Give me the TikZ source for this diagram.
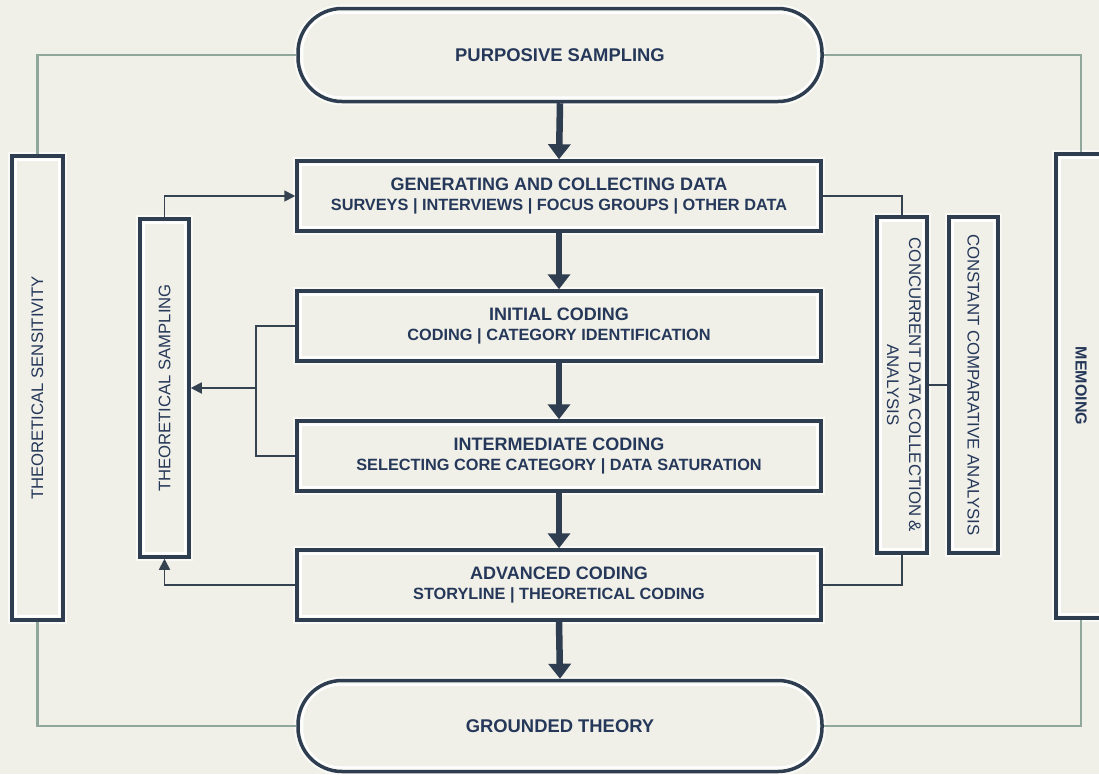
\documentclass[tikz,border=0pt]{standalone}
\usepackage{fontspec}
\setmainfont{Liberation Sans}
\usetikzlibrary{arrows.meta,calc}
\definecolor{bg}{HTML}{F0F0E9}
\definecolor{dk}{HTML}{2E3D4F}
\definecolor{tx}{HTML}{263859}
\definecolor{gr}{HTML}{8FA89B}
\definecolor{ln}{HTML}{34434F}
\newcommand{\lineA}{\fontsize{18}{21}\selectfont\bfseries}
\newcommand{\lineB}{\fontsize{16.3}{21}\selectfont\bfseries}
\begin{document}
\begin{tikzpicture}[x=1pt,y=-1pt,
  box/.style={draw=dk, line width=3.5pt, text=tx, align=center, inner sep=0pt,
    preaction={draw=white,line width=8pt,opacity=0.6}},
  hbox/.style={box, minimum width=524pt, minimum height=70pt},
  stad/.style={box, rounded corners=44pt, minimum width=524pt, minimum height=93pt},
  vbox/.style={box, minimum width=50pt},
  innerline/.style={draw=white, line width=2pt},
  bigarrow/.style={draw=dk, line width=6.5pt, -{Triangle[width=22pt,length=15pt]}},
  thinline/.style={draw=ln, line width=1.8pt},
  thinarrow/.style={thinline, -{Triangle[width=11pt,length=11pt]}},
  gline/.style={draw=gr, line width=2.4pt},
  tA/.style={font=\fontsize{18.4}{22}\selectfont\bfseries},
]
\fill[bg] (0,0) rectangle (1099,774);
\useasboundingbox (0,0) rectangle (1099,774);

% main column
\node[stad, tA] (purp) at (560,55) {PURPOSIVE SAMPLING};
\node[hbox] (gen) at (559,196) {\lineA GENERATING AND COLLECTING DATA\\[8pt]\lineB SURVEYS | INTERVIEWS | FOCUS GROUPS | OTHER DATA};
\node[hbox] (init) at (559,326) {\lineA INITIAL CODING\\[8pt]\lineB CODING | CATEGORY IDENTIFICATION};
\node[hbox] (inter) at (559,456) {\lineA INTERMEDIATE CODING\\[8pt]\lineB SELECTING CORE CATEGORY | DATA SATURATION};
\node[hbox] (adv) at (559,585) {\lineA ADVANCED CODING\\[8pt]\lineB STORYLINE | THEORETICAL CODING};
\node[stad, tA, minimum height=91pt] (gt) at (560,726) {GROUNDED THEORY};

% vertical boxes
\node[vbox, minimum width=51pt, minimum height=464pt] (sens) at (37.5,388) {\rotatebox{90}{\fontsize{16.7}{20}\selectfont THEORETICAL SENSITIVITY}};
\node[vbox, minimum width=49pt, minimum height=338pt] (samp) at (164.5,388) {\rotatebox{90}{\fontsize{16.7}{20}\selectfont THEORETICAL SAMPLING}};
\node[vbox, minimum height=336pt] (conc) at (902,385) {\rotatebox{-90}{\fontsize{16.8}{20}\selectfont\begin{tabular}{@{}c@{}}CONCURRENT DATA COLLECTION \&\\[2pt]ANALYSIS\end{tabular}}};
\node[vbox, minimum width=49pt, minimum height=336pt] (const) at (973.5,385) {\rotatebox{-90}{\fontsize{16.8}{20}\selectfont CONSTANT COMPARATIVE ANALYSIS}};
\node[vbox, minimum height=464pt] (memo) at (1081,386) {\rotatebox{-90}{\fontsize{16}{20}\selectfont\bfseries MEMOING}};

% inner white lines
\foreach \n in {gen,init,inter,adv,sens,samp,conc,const,memo}
  \draw[innerline] ([shift={(6pt,-6pt)}]\n.north west) rectangle ([shift={(-6pt,6pt)}]\n.south east);
\foreach \n in {purp,gt}
  \draw[innerline, rounded corners=38pt] ([shift={(6pt,-6pt)}]\n.north west) rectangle ([shift={(-6pt,6pt)}]\n.south east);

% thick flow arrows
\draw[bigarrow] (purp.south) -- (gen.north);
\draw[bigarrow] (gen.south) -- (init.north);
\draw[bigarrow] (init.south) -- (inter.north);
\draw[bigarrow] (inter.south) -- (adv.north);
\draw[bigarrow] (adv.south) -- (gt.north);

% green frame lines
\draw[gline] (sens.north) |- (purp.west);
\draw[gline] (purp.east) -| (memo.north);
\draw[gline] (sens.south) |- (gt.west);
\draw[gline] (memo.south) |- (gt.east);

% theoretical sampling loop
\draw[thinarrow] (samp.north) |- (gen.west);
\coordinate (br) at ($(init.west)+(-39pt,0pt)$);
\draw[thinline] (init.west) -- (br) |- (inter.west);
\draw[thinarrow] (br |- samp.east) -- (samp.east);
\draw[thinarrow] (adv.west) -| (samp.south);

% concurrent analysis links
\draw[thinline] (gen.east) -| (conc.north);
\draw[thinline] (conc.south) |- (adv.east);
\draw[thinline] (conc.east) -- (const.west);
\end{tikzpicture}
\end{document}
